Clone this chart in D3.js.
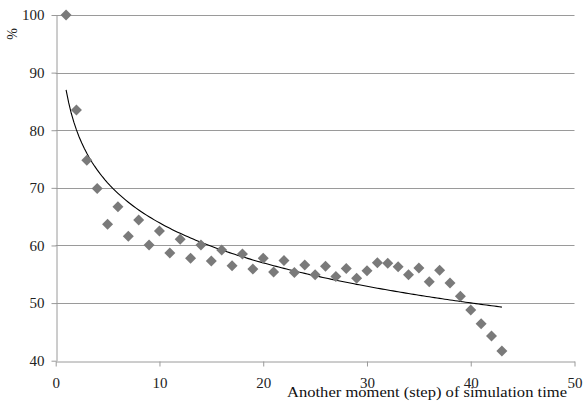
<!DOCTYPE html>
<html><head><meta charset="utf-8">
<script src="https://cdn.jsdelivr.net/npm/d3@7"></script>
<style>body{margin:0;background:#fff}svg{display:block}</style>
</head><body>
<svg id="c" width="584" height="403"></svg>
<script>
const steps = d3.range(1, 44);
const percent = [100,83.5,74.8,69.9,63.7,66.7,61.6,64.4,60.1,62.5,
  58.7,61.1,57.8,60.1,57.3,59.2,56.5,58.5,55.9,57.8,
  55.4,57.4,55.3,56.6,54.9,56.4,54.6,56.0,54.3,55.6,
  57.0,56.9,56.3,54.9,56.1,53.7,55.7,53.5,51.2,48.8,
  46.4,44.3,41.7];
const xTicks = [0,10,20,30,40,50];
const yTicks = [40,50,60,70,80,90,100];
const xTitle = "Another moment (step) of simulation time";
const yTitle = "%";

const svg = d3.select("#c");
const x = d3.scaleLinear().domain([0,50]).range([55.7,574.5]);
const y = d3.scaleLinear().domain([40,100]).range([360.7,15]);
const font = "'Liberation Serif', 'Times New Roman', serif";
const grey = "#9a9a9a";

// gridlines
svg.append("g").selectAll("line").data(yTicks.filter(d=>d>40)).join("line")
  .attr("x1", x(0)).attr("x2", x(50))
  .attr("y1", d=>Math.round(y(d))+0.5).attr("y2", d=>Math.round(y(d))+0.5)
  .attr("stroke", grey).attr("stroke-width", 1);

// y axis
const ya = svg.append("g").attr("transform", `translate(${Math.round(x(0))+0.5},0)`)
  .call(d3.axisLeft(y).tickValues(yTicks).tickSize(5).tickPadding(7).tickSizeOuter(0));
// x axis
const xa = svg.append("g").attr("transform", `translate(0,${Math.round(y(40))+0.5})`)
  .call(d3.axisBottom(x).tickValues(xTicks).tickSize(5).tickPadding(11).tickSizeOuter(0));
[ya, xa].forEach(a => {
  a.selectAll("path,line").attr("stroke", grey);
  a.selectAll("text").attr("font-family", font).attr("font-size", 15).attr("fill", "#222");
});

// trendline: least-squares logarithmic fit of the data
const lx = steps.map(Math.log);
const mx = d3.mean(lx), my = d3.mean(percent);
let sxy = 0, sxx = 0;
lx.forEach((v,i)=>{ sxy += (v-mx)*(percent[i]-my); sxx += (v-mx)*(v-mx); });
const slope = sxy/sxx, icpt = my - slope*mx;
const tx = d3.range(1, 43.001, 0.25);
svg.append("path")
  .attr("d", d3.line().x(d=>x(d)).y(d=>y(icpt + slope*Math.log(d)))(tx))
  .attr("fill","none").attr("stroke","#000").attr("stroke-width",1.1);

// markers
const r = 5.5;
svg.append("g").selectAll("path").data(steps).join("path")
  .attr("d", (d,i)=>{ const cx=x(d), cy=y(percent[i]);
    return `M${cx},${cy-r}L${cx+r},${cy}L${cx},${cy+r}L${cx-r},${cy}Z`; })
  .attr("fill", "#7a7a7a");

// titles
svg.append("text").attr("x", 427).attr("y", 397).attr("text-anchor","middle")
  .attr("font-family", font).attr("font-size", 15).attr("fill","#111")
  .attr("textLength", 280).attr("lengthAdjust","spacingAndGlyphs")
  .text(xTitle);
svg.append("text").attr("transform","translate(17,34) rotate(-90)")
  .attr("text-anchor","middle").attr("font-family", font).attr("font-size", 14).attr("fill","#222")
  .text(yTitle);
</script>
</body></html>
